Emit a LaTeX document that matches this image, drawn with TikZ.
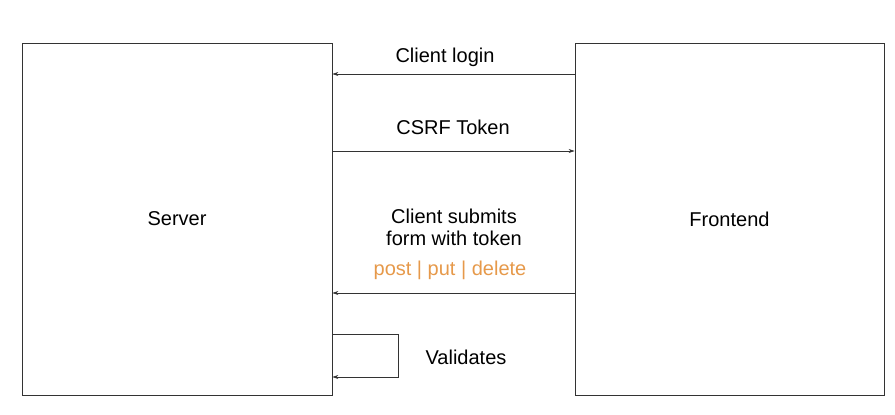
\documentclass[tikz,border=0pt]{standalone}
\usepackage{fontspec}
\setmainfont{Liberation Sans}
\usetikzlibrary{arrows.meta}
\definecolor{lineGray}{HTML}{333333}
\definecolor{methodOrange}{HTML}{E6994A}
\tikzset{
  party/.style={draw=lineGray, line width=0.8pt, minimum width=310pt, minimum height=352pt, font=\fontsize{20}{23}\selectfont},
  msg/.style={font=\fontsize{20}{22}\selectfont, align=center, inner sep=0pt},
  flow/.style={draw=lineGray, line width=0.6pt, -{Stealth[length=6pt,width=4pt]}}
}
\begin{document}
\begin{tikzpicture}[x=1pt,y=-1pt]
  \useasboundingbox (0,0) rectangle (895,415);
  % Draw the two parties
  \node[party] (server) at (177,219) {Server};
  \node[party, minimum width=309pt] (frontend) at (729.5,219) {Frontend};

  % Labels
  \node[msg] (login) at (445,57) {Client login};
  \node[msg] (csrf) at (453,127) {CSRF Token};
  \node[msg] (submit) at (454,227) {Client submits\\form with token};
  \node[msg, text=methodOrange] (methods) at (450,270) {post | put | delete};
  \node[msg] (validate) at (466,357) {Validates};

  % Draw messages
  \draw[flow] (frontend.west |- 0,74) -- (server.east |- 0,74);
  \draw[flow] (server.east |- 0,151) -- (frontend.west |- 0,151);
  \draw[flow] (frontend.west |- 0,293) -- (server.east |- 0,293);
  \draw[flow] (server.east |- 0,334) -- ++(66,0) |- (server.east |- 0,377);
\end{tikzpicture}
\end{document}
